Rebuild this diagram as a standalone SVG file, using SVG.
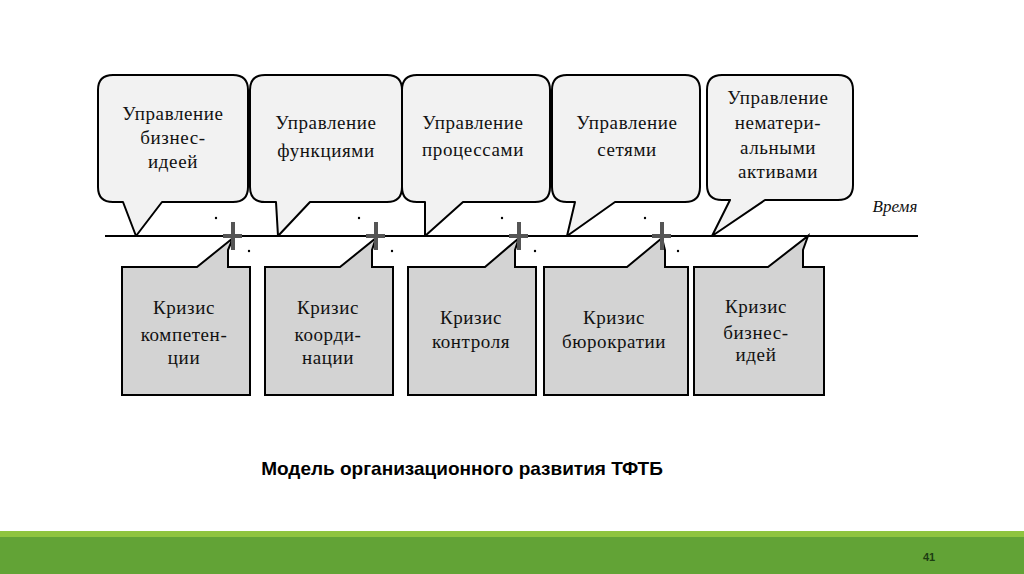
<svg xmlns="http://www.w3.org/2000/svg" width="1024" height="574" viewBox="0 0 1024 574">
<style>
.call{fill:#f2f2f2;stroke:#000;stroke-width:2;stroke-linejoin:round}
.box{fill:#d3d3d3;stroke:#000;stroke-width:2;stroke-linejoin:miter}
.t{font-family:"Liberation Serif",serif;font-size:19px;letter-spacing:0.6px;fill:#111;text-anchor:middle}
.cross{stroke:#555;stroke-width:4}
.cap{font-family:"Liberation Sans",Arial,sans-serif;font-size:19px;font-weight:bold;fill:#000;text-anchor:middle}
</style>
<rect width="1024" height="574" fill="#fff"/>
<g id="connectors">
<line x1="105" y1="236" x2="918" y2="236" stroke="#000" stroke-width="2"/>
<text x="895" y="212" style="font-family:'Liberation Serif',serif;font-size:17px;font-style:italic;fill:#111;text-anchor:middle">Время</text>
</g>
<g id="top1">
<path class="call" d="M113,75 H233 Q248,75 248,90 V187 Q248,202 233,202 H162 L136,236 L123,202 H113 Q98,202 98,187 V90 Q98,75 113,75 Z"/>
<text class="t" x="173" y="120">Управление</text>
<text class="t" x="173" y="144">бизнес-</text>
<text class="t" x="173" y="168">идеей</text>
</g>
<g id="top2">
<path class="call" d="M265,75 H387 Q402,75 402,90 V187 Q402,202 387,202 H310 L278,236 L276,202 H265 Q250,202 250,187 V90 Q250,75 265,75 Z"/>
<text class="t" x="326" y="129">Управление</text>
<text class="t" x="326" y="157">функциями</text>
</g>
<g id="top3">
<path class="call" d="M417,75 H535 Q550,75 550,90 V187 Q550,202 535,202 H463 L425,236 L425,202 H417 Q402,202 402,187 V90 Q402,75 417,75 Z"/>
<text class="t" x="473" y="129">Управление</text>
<text class="t" x="473" y="156">процессами</text>
</g>
<g id="top4">
<path class="call" d="M567,75 H685 Q700,75 700,90 V187 Q700,202 685,202 H615 L567,236 L575,202 H567 Q552,202 552,187 V90 Q552,75 567,75 Z"/>
<text class="t" x="627" y="129">Управление</text>
<text class="t" x="627" y="156">сетями</text>
</g>
<g id="top5">
<path class="call" d="M722,75 H838 Q853,75 853,90 V185 Q853,200 838,200 H765 L712,236 L730,200 H722 Q707,200 707,185 V90 Q707,75 722,75 Z"/>
<text class="t" x="778" y="104">Управление</text>
<text class="t" x="778" y="129">нематери-</text>
<text class="t" x="778" y="154">альными</text>
<text class="t" x="778" y="178">активами</text>
</g>
<g id="bot1">
<path class="box" d="M122,267 H197 L233,238 L228,250 V267 H250 V395 H122 Z"/>
<text class="t" x="184" y="314">Кризис</text>
<text class="t" x="184" y="341">компетен-</text>
<text class="t" x="184" y="364">ции</text>
</g>
<g id="bot2">
<path class="box" d="M265,267 H340 L376,238 L372,250 V267 H393 V395 H265 Z"/>
<text class="t" x="328" y="314">Кризис</text>
<text class="t" x="328" y="341">коорди-</text>
<text class="t" x="328" y="364">нации</text>
</g>
<g id="bot3">
<path class="box" d="M408,267 H485 L519,238 L515,250 V267 H536 V395 H408 Z"/>
<text class="t" x="471" y="324">Кризис</text>
<text class="t" x="471" y="348">контроля</text>
</g>
<g id="bot4">
<path class="box" d="M544,267 H627 L662,238 L665,250 V267 H688 V395 H544 Z"/>
<text class="t" x="614" y="324">Кризис</text>
<text class="t" x="614" y="348">бюрократии</text>
</g>
<g id="bot5">
<path class="box" d="M694,267 H768 L808,236 L803,250 V267 H824 V395 H694 Z"/>
<text class="t" x="756" y="313">Кризис</text>
<text class="t" x="756" y="339">бизнес-</text>
<text class="t" x="756" y="361">идей</text>
</g>
<g id="crosses">
<g transform="translate(233,236)"><line class="cross" x1="0" y1="-14" x2="0" y2="14"/><line class="cross" x1="-10" y1="0" x2="9" y2="0"/><circle cx="-17" cy="-18" r="1.2"/><circle cx="16" cy="15" r="1.2"/></g>
<g transform="translate(376,236)"><line class="cross" x1="0" y1="-14" x2="0" y2="14"/><line class="cross" x1="-10" y1="0" x2="9" y2="0"/><circle cx="-17" cy="-18" r="1.2"/><circle cx="16" cy="15" r="1.2"/></g>
<g transform="translate(519,236)"><line class="cross" x1="0" y1="-14" x2="0" y2="14"/><line class="cross" x1="-10" y1="0" x2="9" y2="0"/><circle cx="-17" cy="-18" r="1.2"/><circle cx="16" cy="15" r="1.2"/></g>
<g transform="translate(662,236)"><line class="cross" x1="0" y1="-14" x2="0" y2="14"/><line class="cross" x1="-10" y1="0" x2="9" y2="0"/><circle cx="-17" cy="-18" r="1.2"/><circle cx="16" cy="15" r="1.2"/></g>
</g>
<text class="cap" x="462" y="475">Модель организационного развития ТФТБ</text>
<rect x="0" y="531" width="1024" height="43" fill="#62a336"/>
<rect x="0" y="531" width="1024" height="6" fill="#8fc43f"/>
<text x="929" y="561" style="font-family:'Liberation Sans',Arial,sans-serif;font-size:11px;font-weight:bold;fill:#1d3d12;text-anchor:middle">41</text>
</svg>
